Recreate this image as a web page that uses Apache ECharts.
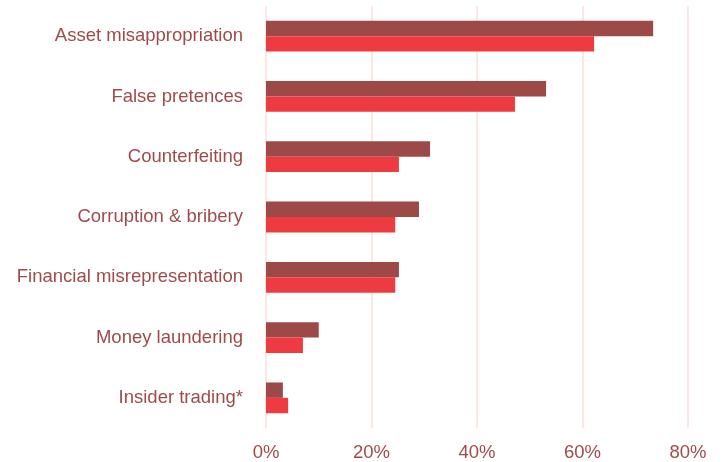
<!DOCTYPE html>
<html>
<head>
<meta charset="utf-8">
<script src="https://cdn.jsdelivr.net/npm/echarts@6/dist/echarts.min.js"></script>
<style>
  html, body { margin: 0; padding: 0; background: #ffffff; }
  #chart { width: 727px; height: 462px; }
</style>
</head>
<body>
<div id="chart"></div>
<script>
// Fraud types, listed top to bottom
const categories = [
  'Asset misappropriation',
  'False pretences',
  'Counterfeiting',
  'Corruption & bribery',
  'Financial misrepresentation',
  'Money laundering',
  'Insider trading*'
];
// Share of respondents (%), two survey groups
const seriesDark = [73.4, 53.1, 31.1, 29.0, 25.2, 10.0, 3.2];
const seriesRed  = [62.2, 47.2, 25.2, 24.5, 24.5, 7.0, 4.2];
const tickLabels = ['0%', '20%', '40%', '60%', '80%'];

const textColor = '#a04b4b';
const fontFamily = '"Liberation Sans", Arial, Helvetica, sans-serif';

const chart = echarts.init(document.getElementById('chart'), null, { renderer: 'canvas' });
chart.setOption({
  animation: false,
  backgroundColor: '#ffffff',
  grid: { left: 266, right: 39, top: 6, bottom: 32.5 },
  xAxis: {
    type: 'value',
    min: 0,
    max: 80,
    interval: 20,
    axisLine: { show: false },
    axisTick: { show: false },
    splitLine: { show: true, lineStyle: { color: '#fde5df', width: 1.8 } },
    axisLabel: {
      color: textColor,
      fontSize: 18.5,
      fontFamily: fontFamily,
      margin: 15,
      formatter: function (v) { return tickLabels[Math.round(v / 20)]; }
    }
  },
  yAxis: {
    type: 'category',
    inverse: true,
    data: categories,
    axisLine: { show: false },
    axisTick: { show: false },
    splitLine: { show: false },
    axisLabel: {
      color: textColor,
      fontSize: 18.5,
      fontFamily: fontFamily,
      margin: 23
    }
  },
  series: [
    {
      type: 'bar',
      data: seriesDark,
      barWidth: 15.4,
      barGap: '0%',
      itemStyle: { color: '#9c4947' }
    },
    {
      type: 'bar',
      data: seriesRed,
      barWidth: 15.4,
      barGap: '0%',
      itemStyle: { color: '#ee3b42' }
    }
  ]
});
</script>
</body>
</html>
